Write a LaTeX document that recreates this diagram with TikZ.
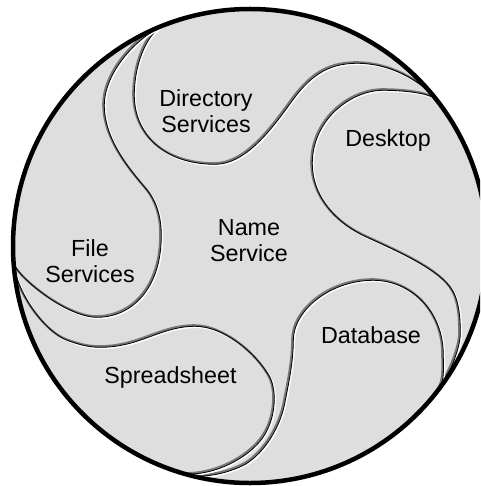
\documentclass[tikz,border=0pt]{standalone}
\usepackage{fontspec}
\setmainfont{Liberation Sans}
\definecolor{discfill}{RGB}{222,222,222}
\definecolor{embossdark}{RGB}{118,118,118}

% an engraved line: dark shadow up-left, black core, white highlight down-right
\newcommand\embossed[1]{%
  \draw[embhi, shift={(1.3,1.3)}] #1;
  \draw[emblo, shift={(-0.7,-0.7)}] #1;
  \draw[embcore, shift={(0.3,0.3)}] #1;}

\begin{document}
\begin{tikzpicture}[x=1pt,y=-1pt,
  lbl/.style={font=\fontsize{23.3}{26}\selectfont, inner sep=0pt, align=center},
  embhi/.style={draw=white, line width=1.6pt, line cap=round, line join=round},
  emblo/.style={draw=embossdark, line width=2.2pt, line cap=round, line join=round},
  embcore/.style={draw=black, line width=0.8pt, line cap=round, line join=round},
  rim/.style={draw=black, line width=4.5pt}]
\useasboundingbox (0,0) rectangle (480,486);
\clip (0,0) rectangle (480,486);

\coordinate (ctr) at (250,246);
\fill[discfill] (ctr) circle[radius=237pt];

% Directory Services lobe
\embossed{(163.1,25.5) .. controls (149,31) and (134,60) .. (134,95)
  .. controls (134,135) and (165,164) .. (215,164)
  .. controls (245,164) and (270.7,129.7) .. (290,103)
  .. controls (308,78) and (325,63) .. (357,63)
  .. controls (390,63) and (421.4,80.4) .. (436.8,100.1)}

% Desktop lobe
\embossed{(436.8,100.1) .. controls (430.6,92.2) and (400,90) .. (383,90)
  .. controls (350,90) and (312,120) .. (312,163)
  .. controls (312,200) and (340,225) .. (367,237)
  .. controls (394,249.5) and (435,267) .. (450,287)
  .. controls (459,299) and (460,318) .. (460,333)
  .. controls (460,350) and (446.5,379.4) .. (437.3,391.3)}

% Database lobe
\embossed{(437.3,391.3) .. controls (444.7,381.8) and (443,368) .. (443,355)
  .. controls (443,310) and (410,280) .. (373,280)
  .. controls (330,280) and (293,310) .. (293,340)
  .. controls (293,360) and (289,380) .. (285,400)
  .. controls (281,425) and (265,452) .. (245,464)
  .. controls (230,472) and (203.9,479.3) .. (184.7,473.8)}

% Spreadsheet lobe
\embossed{(13.5,262.1) .. controls (15.5,292) and (45,332) .. (67,340)
  .. controls (78,344) and (88,347) .. (100,347)
  .. controls (140,347) and (160,326) .. (195,326)
  .. controls (225,326) and (258,355) .. (270,378)
  .. controls (277,393) and (275,420) .. (262,438)
  .. controls (247.6,457.8) and (215,475) .. (184.7,473.8)}

% File Services lobe
\embossed{(163.1,25.5) .. controls (140,34.7) and (104,70) .. (104,105)
  .. controls (104,140) and (130,170) .. (147,190)
  .. controls (155,200) and (161,215) .. (161,235)
  .. controls (161,290) and (130,317) .. (97,317)
  .. controls (65,317) and (14.3,274) .. (13.5,262.1)}

\draw[rim] (ctr) circle[radius=237pt];

\node[lbl] (dirsvc) at (206,111.2) {Directory\\Services};
\node[lbl] (namesvc) at (249,240.2) {Name\\Service};
\node[lbl] (filesvc) at (90,260.7) {File\\Services};
\node[lbl, anchor=base] (desktop) at (388,147) {Desktop};
\node[lbl, anchor=base] (database) at (371,343) {Database};
\node[lbl, anchor=base] (spread) at (170.5,383) {Spreadsheet};
\end{tikzpicture}
\end{document}
